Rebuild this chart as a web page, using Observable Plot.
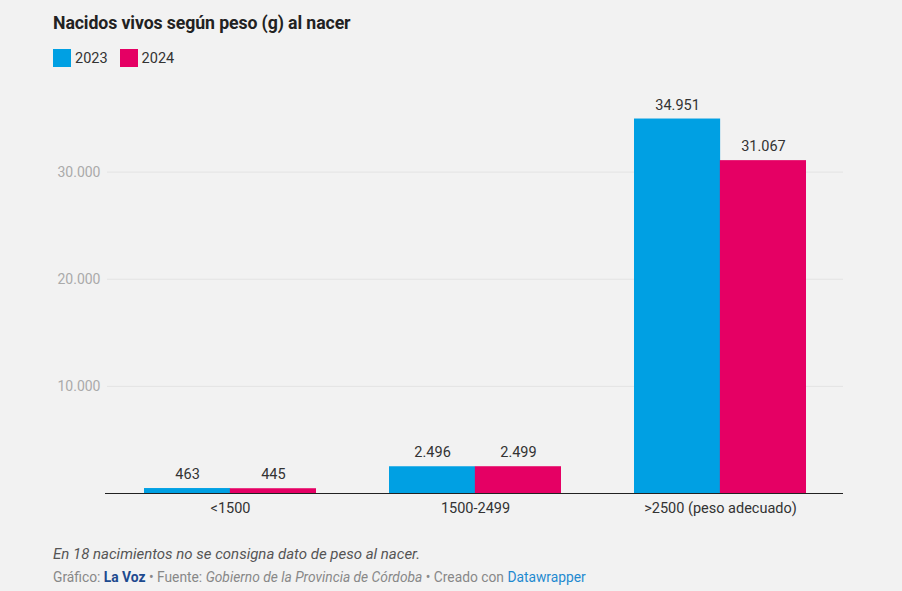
<!DOCTYPE html>
<html><head><meta charset="utf-8">
<script src="https://cdn.jsdelivr.net/npm/d3@7"></script>
<script src="https://cdn.jsdelivr.net/npm/@observablehq/plot@0.6"></script>
<style>
html,body{margin:0;padding:0;background:#f2f2f2;font-family:Roboto,"Noto Sans",sans-serif;}
#wrap{width:902px;height:591px;position:relative;overflow:hidden;}
#title{position:absolute;left:53px;top:13px;font-size:17.7px;font-weight:700;color:#222;letter-spacing:-0.1px;}
#legend{position:absolute;left:53px;top:49px;font-size:14.5px;color:#333;display:flex;align-items:center;}
#legend .sw{display:inline-block;width:18px;height:18px;margin-right:4px;}
#legend .it{display:flex;align-items:center;margin-right:12px;}
#chart{position:absolute;left:0;top:80px;}
#note{position:absolute;left:53px;top:545px;font-size:15px;font-style:italic;color:#555;}
#src{position:absolute;left:53px;top:569px;font-size:13.8px;color:#888;}
#src b{color:#1d4a8f;}
#src .dw{color:#1f8ad0;}
</style></head>
<body><div id="wrap">
<div id="title">Nacidos vivos según peso (g) al nacer</div>
<div id="legend"></div>
<div id="chart"></div>
<div id="note">En 18 nacimientos no se consigna dato de peso al nacer.</div>
<div id="src">Gráfico: <b>La Voz</b> • Fuente: <i>Gobierno de la Provincia de Córdoba</i> • Creado con <span class="dw">Datawrapper</span></div>
</div>
<script>
const categories = ["<1500", "1500-2499", ">2500 (peso adecuado)"];
const series = ["2023", "2024"];
const values2023 = [463, 2496, 34951];
const values2024 = [445, 2499, 31067];
const yTicks = [10000, 20000, 30000];
const colors = ["#00a0e3", "#e50064"];

const fmt = d3.formatLocale({decimal: ",", thousands: ".", grouping: [3], currency: ["$", ""]}).format(",d");

const rows23 = categories.map((c, i) => ({cat: c, year: "2023", v: values2023[i]}));
const rows24 = categories.map((c, i) => ({cat: c, year: "2024", v: values2024[i]}));

const legend = document.getElementById("legend");
series.forEach((s, i) => {
  const it = document.createElement("span"); it.className = "it";
  it.innerHTML = `<span class="sw" style="background:${colors[i]}"></span>${s}`;
  legend.appendChild(it);
});

const W = 902, mL = 107, mR = 59;
const pad = 0.3;
const step = (W - mL - mR) / categories.length;
const half = step * (1 - pad) / 2;

const chart = Plot.plot({
  width: W, height: 448,
  marginLeft: mL, marginRight: mR, marginTop: 38, marginBottom: 35,
  style: {background: "transparent", fontFamily: "Roboto, sans-serif", fontSize: "14px", color: "#333"},
  x: {domain: categories, paddingInner: pad, paddingOuter: pad / 2, label: null},
  y: {domain: [0, 35000], label: null},
  marks: [
    Plot.gridY(yTicks, {stroke: "#e3e3e3", strokeOpacity: 1}),
    Plot.axisY(yTicks, {tickSize: 0, tickPadding: 7, tickFormat: fmt, fill: "#aaa", fontSize: 14, label: null}),
    Plot.barY(rows23, {x: "cat", y: "v", fill: colors[0], insetRight: half}),
    Plot.barY(rows24, {x: "cat", y: "v", fill: colors[1], insetLeft: half}),
    Plot.text(rows23, {x: "cat", y: "v", text: d => fmt(d.v), dx: -half / 2, dy: -14, fill: "#333", fontSize: 14.5}),
    Plot.text(rows24, {x: "cat", y: "v", text: d => fmt(d.v), dx: half / 2, dy: -14, fill: "#333", fontSize: 14.5}),
    Plot.ruleY([0], {stroke: "#222", strokeWidth: 1.2, insetLeft: -2}),
    Plot.axisX({tickSize: 0, tickPadding: 9, fill: "#333", fontSize: 14.5, label: null})
  ]
});
document.getElementById("chart").appendChild(chart);
</script>
</body></html>
